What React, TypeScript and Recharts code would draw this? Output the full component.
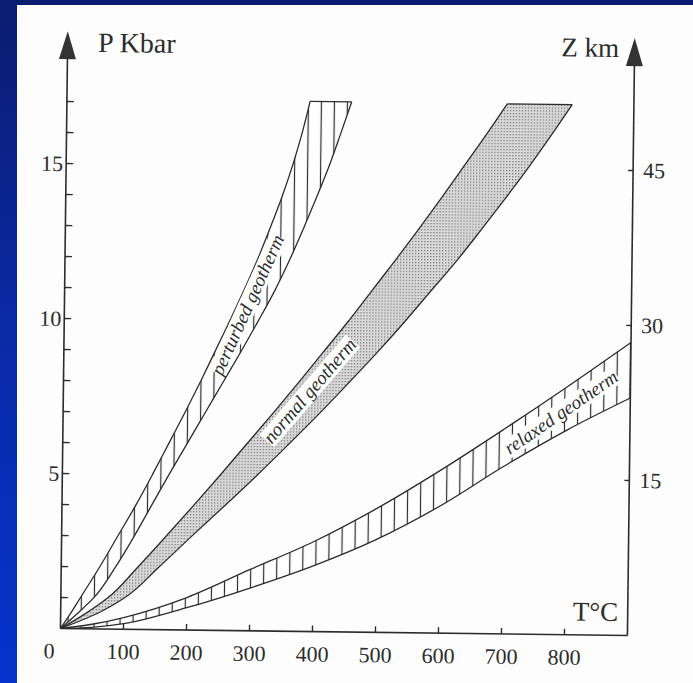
import React from 'react';
import { ComposedChart, Area, XAxis, YAxis, ReferenceDot, ReferenceLine } from 'recharts';

const W = 693;
const H = 683;
const MARGIN_BANDS = { top: 61.6, right: 62, bottom: 51, left: 64 };
const MARGIN_AXES = { top: 61.6, right: 61, bottom: 50, left: 63 };

const T_TICKS = [0, 100, 200, 300, 400, 500, 600, 700, 800];
const P_TICKS = [1, 2, 3, 4, 5, 6, 7, 8, 9, 10, 11, 12, 13, 14, 15, 16, 17];
const Z_TICKS = [15, 30, 45];

// relaxed geotherm, read on a temperature grid (°C -> kbar)
const relaxedT = [0, 50, 100, 200, 300, 400, 500, 600, 700, 800, 900];
const relaxedUpper = [0, 0.15, 0.38, 1.05, 1.98, 2.9, 4.0, 5.25, 6.6, 8.0, 9.45];
const relaxedLower = [0, 0.05, 0.18, 0.72, 1.38, 2.12, 3.0, 4.1, 5.4, 6.6, 7.66];

// perturbed and normal geotherms, read on a pressure grid (kbar -> °C)
const bandP = [0, 0.5, 1, 2, 3, 4, 5, 6, 7, 8, 9, 10, 11, 12, 13, 14, 15, 16, 17.1];
const perturbedLeft = [0, 16, 31, 61, 89, 117, 143, 168, 193, 217, 240, 263, 285, 306, 325, 343, 359, 373, 386];
const perturbedRight = [0, 27, 52, 86, 115, 142, 169, 197, 225, 253, 281, 308, 334, 357, 378, 398, 417, 434, 452];
const normalLeft = [0, 40, 74, 121, 165, 208, 250, 291, 332, 372, 411, 450, 487, 524, 560, 595, 629, 663, 699];
const normalRight = [0, 58, 100, 154, 205, 257, 308, 357, 405, 451, 496, 539, 580, 621, 659, 696, 732, 766, 802];

const relaxedRows = relaxedT.map((T, i) => ({ T, band: [relaxedLower[i], relaxedUpper[i]] }));
const bandRows = bandP.map((P, i) => ({
  P,
  perturbed: [perturbedLeft[i], perturbedRight[i]],
  normal: [normalLeft[i], normalRight[i]],
}));
const last = bandP.length - 1;
const topP = bandP[last];

const ink = '#2c2c2c';
const serif = '"Liberation Serif", "Times New Roman", serif';

function PTick(props: any) {
  const { x, y, payload } = props;
  const v = payload.value;
  return (
    <g>
      <line x1={x} y1={y} x2={x + 7} y2={y} stroke={ink} strokeWidth={1.4} />
      {v % 5 === 0 && (
        <text x={x - 3} y={y + 7.5} textAnchor="end" fontSize={22} fontFamily={serif} fill={ink}>
          {v}
        </text>
      )}
    </g>
  );
}

function TTick(props: any) {
  const { x, y, payload } = props;
  const v = payload.value;
  if (v === 0) {
    return (
      <text x={x - 11} y={y + 30} textAnchor="middle" fontSize={22} fontFamily={serif} fill={ink}>
        0
      </text>
    );
  }
  return (
    <g>
      <line x1={x} y1={y} x2={x} y2={y - 6} stroke={ink} strokeWidth={1.4} />
      <text x={x} y={y + 30} textAnchor="middle" fontSize={22} fontFamily={serif} fill={ink}>
        {v}
      </text>
    </g>
  );
}

function ZTick(props: any) {
  const { x, y, payload } = props;
  return (
    <g>
      <line x1={x} y1={y} x2={x - 5} y2={y} stroke={ink} strokeWidth={1.4} />
      <text x={x + 10} y={y + 7.5} textAnchor="start" fontSize={22} fontFamily={serif} fill={ink}>
        {payload.value}
      </text>
    </g>
  );
}

function AxisTitle(props: any) {
  const { viewBox, text, dx, dy, anchor, fromRight, size } = props;
  const x0 = fromRight ? viewBox.x + viewBox.width : viewBox.x;
  return (
    <text x={x0 + dx} y={viewBox.y + dy} textAnchor={anchor} fontSize={size || 27} fontFamily={serif} fill={ink}>
      {text}
    </text>
  );
}

const arrow = (p: any) => (
  <polygon points={`${p.cx - 8.5},${p.cy + 1} ${p.cx + 8.5},${p.cy + 1} ${p.cx},${p.cy - 27}`} fill="#333" />
);

function bandLabel(text: string, angle: number, boxW: number) {
  return (p: any) => (
    <g transform={`translate(${p.cx},${p.cy}) rotate(${angle})`}>
      <rect x={-boxW / 2} y={-10} width={boxW} height={19} fill="#fff" />
      <text x={0} y={5.5} textAnchor="middle" fontSize={19} fontStyle="italic" fontFamily={serif} fill={ink}>
        {text}
      </text>
    </g>
  );
}

export default function App() {
  return (
    <div
      style={{
        position: 'fixed',
        left: 0,
        top: 0,
        width: W,
        height: H,
        background: 'linear-gradient(180deg, #0b1c70 0%, #0a2aa8 50%, #0434cc 100%)',
        overflow: 'hidden',
      }}
    >
      <div style={{ position: 'absolute', left: 17, top: 5, right: 0, bottom: 0, background: '#fdfdfd' }} />
      <div
        style={{
          position: 'absolute',
          left: 0,
          top: 0,
          width: W,
          height: H,
          transform: 'rotate(0.7deg)',
          transformOrigin: '346.5px 341.5px',
        }}
      >
        {/* perturbed and normal bands, P on the category side */}
        <div style={{ position: 'absolute', left: 0, top: 0 }}>
          <ComposedChart width={W} height={H} margin={MARGIN_BANDS} data={bandRows} layout="vertical">
            <defs>
              <pattern id="hatchB" patternUnits="userSpaceOnUse" width="13" height="10">
                <rect width="13" height="10" fill="#fff" />
                <line x1="6.5" y1="0" x2="6.5" y2="10" stroke="#2a2a2a" strokeWidth="1.2" />
              </pattern>
              <pattern id="stipple" patternUnits="userSpaceOnUse" width="3" height="3">
                <rect width="3" height="3" fill="#dcdcdc" />
                <rect x="0" y="0" width="1.3" height="1.3" fill="#777" />
              </pattern>
            </defs>
            <XAxis type="number" domain={[0, 900]} hide height={0} allowDataOverflow />
            <YAxis type="number" dataKey="P" domain={[0, 18.4]} hide width={0} reversed allowDataOverflow />
            <Area
              dataKey="perturbed"
              type="monotone"
              fill="url(#hatchB)"
              fillOpacity={1}
              stroke={ink}
              strokeWidth={1.3}
              isAnimationActive={false}
              dot={false}
              activeDot={false}
            />
            <Area
              dataKey="normal"
              type="monotone"
              fill="url(#stipple)"
              fillOpacity={1}
              stroke={ink}
              strokeWidth={1.3}
              isAnimationActive={false}
              dot={false}
              activeDot={false}
            />
            <ReferenceLine
              segment={[
                { x: perturbedLeft[last], y: topP },
                { x: perturbedRight[last], y: topP },
              ]}
              stroke={ink}
              strokeWidth={1.3}
              ifOverflow="visible"
            />
            <ReferenceLine
              segment={[
                { x: normalLeft[last], y: topP },
                { x: normalRight[last], y: topP },
              ]}
              stroke={ink}
              strokeWidth={1.3}
              ifOverflow="visible"
            />
            <ReferenceDot x={292} y={10.5} ifOverflow="visible" shape={bandLabel('perturbed geotherm', -66.3, 150)} />
            <ReferenceDot x={392} y={7.75} ifOverflow="visible" shape={bandLabel('normal geotherm', -50, 132)} />
          </ComposedChart>
        </div>

        {/* relaxed band and the axes */}
        <div style={{ position: 'absolute', left: 0, top: 0 }}>
          <ComposedChart width={W} height={H} margin={MARGIN_AXES} data={relaxedRows}>
            <defs>
              <pattern id="hatchA" patternUnits="userSpaceOnUse" width="13" height="10">
                <rect width="13" height="10" fill="#fff" />
                <line x1="6.5" y1="0" x2="6.5" y2="10" stroke="#2a2a2a" strokeWidth="1.2" />
              </pattern>
            </defs>
            <XAxis
              type="number"
              dataKey="T"
              domain={[0, 900]}
              ticks={T_TICKS}
              interval={0}
              height={1}
              tickSize={0}
              tickMargin={0}
              tickLine={false}
              axisLine={{ stroke: ink, strokeWidth: 1.6 }}
              tick={<TTick />}
              allowDataOverflow
              label={<AxisTitle text="T°C" dx={-9.6} dy={-14.3} anchor="end" fromRight />}
            />
            <YAxis
              yAxisId="p"
              type="number"
              domain={[0, 18.4]}
              ticks={P_TICKS}
              interval={0}
              width={1}
              tickSize={0}
              tickMargin={0}
              tickLine={false}
              axisLine={{ stroke: ink, strokeWidth: 1.6 }}
              tick={<PTick />}
              allowDataOverflow
              label={<AxisTitle text="P Kbar" dx={31.5} dy={-6.6} anchor="start" size={28} />}
            />
            <YAxis
              yAxisId="z"
              orientation="right"
              type="number"
              domain={[0, 55.2]}
              ticks={Z_TICKS}
              interval={0}
              width={1}
              tickSize={0}
              tickMargin={0}
              tickLine={false}
              axisLine={{ stroke: ink, strokeWidth: 1.6 }}
              tick={<ZTick />}
              allowDataOverflow
              label={<AxisTitle text="Z km" dx={-15.5} dy={-8} anchor="end" />}
            />
            <Area
              yAxisId="p"
              dataKey="band"
              type="monotone"
              fill="url(#hatchA)"
              fillOpacity={1}
              stroke={ink}
              strokeWidth={1.3}
              isAnimationActive={false}
              dot={false}
              activeDot={false}
            />
            <ReferenceDot yAxisId="p" x={791} y={7.15} ifOverflow="visible" shape={bandLabel('relaxed geotherm', -35.1, 134)} />
            <ReferenceDot yAxisId="p" x={0} y={18.4} ifOverflow="visible" shape={arrow} />
            <ReferenceDot yAxisId="p" x={900} y={18.4} ifOverflow="visible" shape={arrow} />
          </ComposedChart>
        </div>
      </div>
    </div>
  );
}
